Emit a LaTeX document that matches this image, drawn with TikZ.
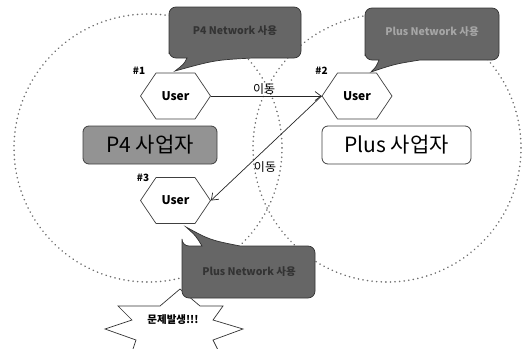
\documentclass[tikz,border=0pt]{standalone}
\usepackage{fontspec}
\setmainfont{Noto Sans CJK KR}
\usetikzlibrary{shapes.symbols,arrows.meta}
\definecolor{callfill}{HTML}{666666}
\definecolor{p4fill}{HTML}{939393}
\definecolor{dotgray}{HTML}{6E6E6E}
\tikzset{
  userbox/.style={shape=signal, signal to=east and west, signal pointer angle=112,
    draw=black!75, line width=0.7pt, fill=white, minimum width=70pt, minimum height=46pt,
    inner sep=0pt, font=\fontsize{12}{14}\selectfont\bfseries},
  zone/.style={draw=dotgray, line width=1.7pt, dash pattern=on 0.1pt off 4.5pt, line cap=round},
  callout/.style={fill=callfill, draw=black!80, line width=0.7pt},
  calltext/.style={font=\fontsize{10.5}{12}\selectfont\bfseries, inner sep=0pt},
  bizbox/.style={draw=black!75, line width=0.8pt, rounded corners=6pt, minimum height=38pt,
    font=\fontsize{21}{24}\selectfont, inner sep=2pt},
  movearrow/.style={draw=black!85, line width=0.7pt, -{Straight Barb[length=6pt,width=9pt]}},
  tag/.style={font=\fontsize{10}{11}\selectfont\bfseries, inner sep=0pt},
  movelabel/.style={font=\fontsize{12}{13}\selectfont, inner sep=1pt}
}
\begin{document}
\begin{tikzpicture}[x=1pt,y=-1pt]
\useasboundingbox (0,0) rectangle (526,348);
% zones
\draw[zone] (148,148) circle (134);
\draw[zone] (387,148) circle (134);
% star
\draw[fill=white, draw=black!80, line width=0.7pt]
  (180,289) -- (200,306) -- (223,306) -- (213,320) -- (243,329) -- (213,340)
  -- (222,358) -- (195,352) -- (178,368) -- (160,352) -- (130,358) -- (136,340)
  -- (105,329) -- (132,320) -- (118,306) -- (160,306) -- cycle;
\node[font=\fontsize{10.5}{11}\selectfont\bfseries, inner sep=0pt] (problem) at (173,320) {문제발생!!!};
% callouts
\draw[callout] [rounded corners=7pt] (169,58) -- (169,7) -- (301,7) -- (301,58)
  [sharp corners] -- (253,58) .. controls (215,60) .. (175,71) .. controls (184,64) .. (187,58)
  [rounded corners=7pt] -- (169,58) -- cycle;
\node[calltext, text=black!80] (c1) at (235,31) {P4 Network 사용};
\draw[callout] [rounded corners=7pt] (365,60) -- (365,8) -- (499,8) -- (499,60)
  [sharp corners] -- (420,60) .. controls (395,64) .. (371,72) .. controls (376,67) .. (379,60)
  [rounded corners=7pt] -- (365,60) -- cycle;
\node[calltext, text=black!35] (c2) at (432,32) {Plus Network 사용};
\draw[callout] [rounded corners=7pt] (182,246) -- (182,298) -- (315,298) -- (315,246)
  [sharp corners] -- (240,246) .. controls (210,240) .. (186,227) .. controls (196,236) .. (202,246)
  [rounded corners=7pt] -- (182,246) -- cycle;
\node[calltext, text=black!80] (c3) at (249,272) {Plus Network 사용};
% business boxes
\node[bizbox, fill=p4fill, minimum width=134pt] (p4) at (150,145) {P4 사업자};
\node[bizbox, fill=white, minimum width=149pt] (plus) at (396.5,145) {Plus 사업자};
% users
\node[userbox] (u1) at (175.5,96) {User};
\node[userbox] (u2) at (357,96) {User};
\node[userbox] (u3) at (175.5,200.5) {User};
\node[tag] (t1) at ([xshift=-1pt,yshift=25pt]u1.west) {\#1};
\node[tag] (t2) at ([xshift=0pt,yshift=25pt]u2.west) {\#2};
\node[tag] (t3) at ([xshift=3pt,yshift=23pt]u3.west) {\#3};
% moves
\draw[movearrow] (u1.east) -- node[movelabel, above, pos=0.48] (m1) {이동} (u2.west);
\draw[movearrow] (u2.west) -- (u3.east);
\node[movelabel] (m2) at (265,167) {이동};
\end{tikzpicture}
\end{document}
